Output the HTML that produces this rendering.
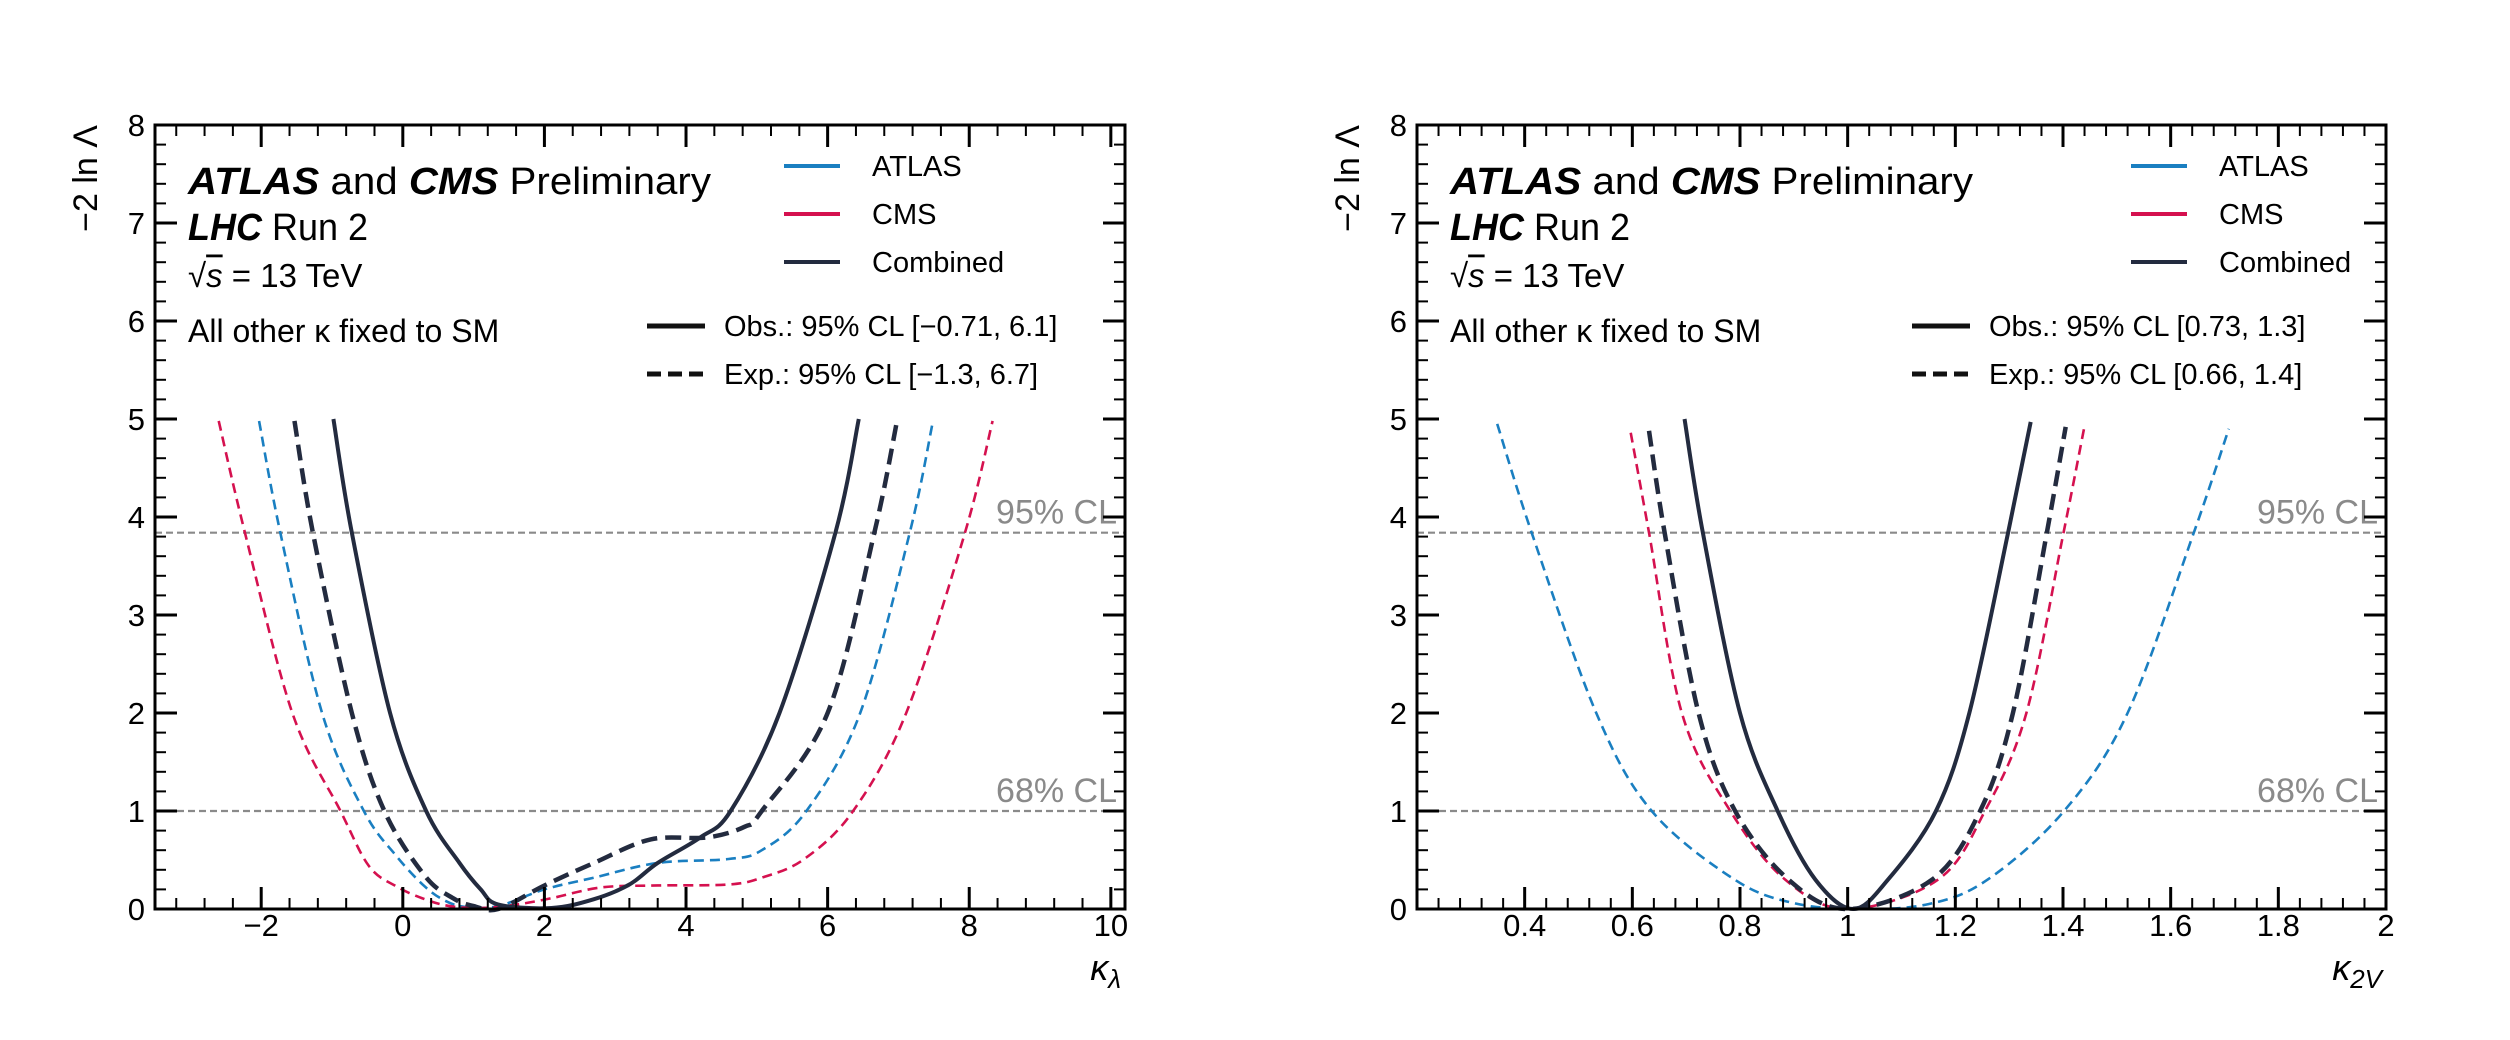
<!DOCTYPE html>
<html><head><meta charset="utf-8"><style>
html,body{margin:0;padding:0;background:#fff;}
svg{display:block;font-family:"Liberation Sans",sans-serif;}
</style></head><body>
<svg id="chart" width="2510" height="1040" viewBox="0 0 2510 1040" xmlns="http://www.w3.org/2000/svg"></svg>
<script>
// ---------- data (left panel: kappa_lambda) ----------
const klAtlasX = [-2.03,-1.73,-1.14,-0.55,-0.09,0.31,0.61,0.9,1.35,2.0,2.7,3.6,4.6,5.07,5.7,6.46,7.16,7.48];
const klAtlasY = [4.98,3.84,2,1,0.54,0.23,0.08,0.02,0.03,0.2,0.32,0.47,0.51,0.6,1,2,3.84,4.95];
const klCmsX = [-2.6,-2.23,-1.56,-0.88,-0.48,-0.09,0.31,0.66,1.1,1.6,2.1,2.8,3.6,4.6,5.07,5.67,6.36,7.11,7.94,8.33];
const klCmsY = [4.98,3.84,2,1,0.44,0.23,0.1,0.03,0.01,0.045,0.11,0.22,0.24,0.25,0.32,0.51,1,2,3.84,4.98];
const klExpX = [-1.53,-1.27,-0.72,-0.26,0.31,0.71,1.0,1.35,2.0,2.7,3.5,4.3,4.83,5.07,6.0,6.66,6.98];
const klExpY = [4.98,3.84,2,1,0.34,0.11,0.03,0.0,0.24,0.47,0.71,0.73,0.84,1,2,3.84,4.98];
const klObsX = [-0.98,-0.72,-0.18,0.33,0.8,1.1,1.35,2.1,2.7,3.2,3.6,4.2,4.63,5.32,6.11,6.44];
const klObsY = [5,3.84,2,1,0.47,0.2,0.045,0.01,0.1,0.25,0.47,0.73,1,2,3.84,5];
// ---------- data (right panel: kappa_2V) ----------
const k2AtlasX = [0.349,0.413,0.533,0.636,0.79,0.9,1.02,1.15,1.26,1.402,1.52,1.643,1.708];
const k2AtlasY = [4.95,3.84,2,1,0.3,0.06,0,0.05,0.3,1,2,3.84,4.9];
const k2CmsX = [0.597,0.631,0.692,0.782,0.884,1.0,1.168,1.255,1.332,1.401,1.439];
const k2CmsY = [4.86,3.84,2,1,0.3,0,0.3,1,2,3.84,4.9];
const k2ExpX = [0.631,0.66,0.723,0.791,0.89,1.0,1.157,1.246,1.307,1.37,1.405];
const k2ExpY = [4.88,3.84,2,1,0.3,0,0.3,1,2,3.84,4.92];
const k2ObsX = [0.697,0.731,0.80,0.87,0.94,1.01,1.075,1.164,1.226,1.298,1.34];
const k2ObsY = [5,3.84,2,1,0.3,0,0.3,1,2,3.84,4.97];
const yTicks = [0,1,2,3,4,5,6,7,8];
const klTicks = [-2,0,2,4,6,8,10];
const k2Ticks = [0.4,0.6,0.8,1,1.2,1.4,1.6,1.8,2];
const clLevels = [1,3.84];
const clLabels = ["68% CL","95% CL"];

const NS="http://www.w3.org/2000/svg";
const svg=document.getElementById('chart');
function mk(tag,attrs,parent){const e=document.createElementNS(NS,tag);for(const k in attrs)e.setAttribute(k,attrs[k]);(parent||svg).appendChild(e);return e;}
const C_ATLAS="#1a7fc1",C_CMS="#d5114f",C_COMB="#232b3f",C_GRAY="#8a8a8a";

function panel(o){
  const g=mk('g',{});
  
  
  const L=o.x0,R=o.x1,T=125,B=909;
  const sx=v=>L+(v-o.xmin)/(o.xmax-o.xmin)*(R-L);
  const sy=v=>B-(v/8)*(B-T);
  clLevels.forEach((lv,i)=>{
    const ln=mk('line',{x1:L,x2:R,y1:sy(lv),y2:sy(lv),stroke:C_GRAY,'stroke-width':2.2,'stroke-dasharray':'7,4'},g);
    
    
    const t=mk('text',{x:R-8,y:sy(lv)-9,'font-size':34,fill:C_GRAY,'text-anchor':'end'},g);
    t.textContent=clLabels[i];
    
    
  });
  function path(xs,ys){
    const p=xs.map((x,i)=>[sx(x),sy(ys[i])]);
    let d='M'+p[0][0]+','+p[0][1];
    for(let i=0;i<p.length-1;i++){
      const p0=p[Math.max(0,i-1)],p1=p[i],p2=p[i+1],p3=p[Math.min(p.length-1,i+2)];
      const c1=[p1[0]+(p2[0]-p0[0])/6,p1[1]+(p2[1]-p0[1])/6];
      const c2=[p2[0]-(p3[0]-p1[0])/6,p2[1]-(p3[1]-p1[1])/6];
      d+=' C'+c1[0]+','+c1[1]+' '+c2[0]+','+c2[1]+' '+p2[0]+','+p2[1];
    }
    return d;
  }
  o.series.forEach(s=>{
    const e=mk('path',{d:path(s.x,s.y),fill:'none',stroke:s.c,'stroke-width':s.w,'stroke-dasharray':s.dash||'none','stroke-linejoin':'round'},g);
    
    
  });
  const fr=mk('rect',{x:L,y:T,width:R-L,height:B-T,fill:'none',stroke:'#000','stroke-width':3},g);
  
  
  for(let v=0;v<=8.001;v+=0.2){
    const maj=Math.abs(v-Math.round(v))<1e-6;const len=maj?22:11;
    mk('line',{x1:L,x2:L+len,y1:sy(v),y2:sy(v),stroke:'#000','stroke-width':maj?3:2},g);
    mk('line',{x1:R,x2:R-len,y1:sy(v),y2:sy(v),stroke:'#000','stroke-width':maj?3:2},g);
  }
  yTicks.forEach(v=>{
    const t=mk('text',{x:L-10,y:sy(v)+11,'font-size':31,'text-anchor':'end'},g);
    t.textContent=v;
    
    
  });
  const n=Math.round((o.xmax-o.xmin)/o.minor)+2;
  const start=Math.ceil(o.xmin/o.minor-1e-6)*o.minor;
  for(let i=0;i<n;i++){
    const v=start+i*o.minor; if(v>o.xmax+1e-9)break;
    const q=v/o.major; const maj=Math.abs(q-Math.round(q))<1e-6; const len=maj?22:11;
    mk('line',{x1:sx(v),x2:sx(v),y1:B,y2:B-len,stroke:'#000','stroke-width':maj?3:2},g);
    mk('line',{x1:sx(v),x2:sx(v),y1:T,y2:T+len,stroke:'#000','stroke-width':maj?3:2},g);
  }
  o.ticks.forEach(v=>{
    const t=mk('text',{x:sx(v),y:936,'font-size':31,'text-anchor':'middle'},g);
    t.textContent=(v<0?'\u2212'+(-v):String(v));
    
    
  });
  const yt=mk('text',{x:0,y:0,'font-size':34,'text-anchor':'end',transform:`translate(${L-58},125) rotate(-90)`},g);
  yt.textContent='\u22122 ln \u039B';
  
  
  const xt=mk('text',{x:R-4,y:980,'font-size':36,'font-style':'italic','text-anchor':'end'},g);
  xt.innerHTML='\u03BA<tspan font-size="26" dy="8">'+o.sub+'</tspan>';
  
  
  const tx=L+33;
  const t1=mk('text',{x:tx,y:194,'font-size':38,textLength:523,lengthAdjust:'spacingAndGlyphs'},g);
  t1.innerHTML='<tspan font-weight="bold" font-style="italic">ATLAS</tspan> and <tspan font-weight="bold" font-style="italic">CMS</tspan> Preliminary';
  
  
  const t2=mk('text',{x:tx,y:240,'font-size':38,textLength:180,lengthAdjust:'spacingAndGlyphs'},g);
  t2.innerHTML='<tspan font-weight="bold" font-style="italic">LHC</tspan> Run 2';
  
  
  const t3=mk('text',{x:tx,y:287,'font-size':33},g);
  t3.innerHTML='\u221A<tspan font-style="italic" text-decoration="overline">s</tspan> = 13 TeV';
  
  
  const t4=mk('text',{x:tx,y:342,'font-size':32},g);
  t4.textContent='All other \u03BA fixed to SM';
  
  
  const leg=[["ATLAS",C_ATLAS,166],["CMS",C_CMS,214],["Combined",C_COMB,262]];
  leg.forEach(l=>{
    const ln=mk('line',{x1:o.legX,x2:o.legX+56,y1:l[2],y2:l[2],stroke:l[1],'stroke-width':4},g);
    
    
    const t=mk('text',{x:o.legX+88,y:l[2]+10,'font-size':29},g);
    t.textContent=l[0];
    
    
  });
  const sty=[["Obs.:  95% CL "+o.obs,'none',326,'obs'],["Exp.:  95% CL "+o.exp,'14,7',374,'exp']];
  sty.forEach(s=>{
    const ln=mk('line',{x1:o.styX,x2:o.styX+58,y1:s[2],y2:s[2],stroke:'#111','stroke-width':5,'stroke-dasharray':s[1]},g);
    
    
    const t=mk('text',{x:o.styX+77,y:s[2]+10,'font-size':29},g);
    t.textContent=s[0];
    
    
  });
}
panel({name:'kappa-lambda-panel',x0:155,x1:1125,xmin:-3.5,xmax:10.2,minor:0.4,major:2,ticks:klTicks,sub:'\u03BB',
  legX:784,styX:647,obs:'[\u22120.71, 6.1]',exp:'[\u22121.3, 6.7]',
  series:[
   {n:'atlas-expected-curve',x:klAtlasX,y:klAtlasY,c:C_ATLAS,w:2.6,dash:'10,6'},
   {n:'cms-expected-curve',x:klCmsX,y:klCmsY,c:C_CMS,w:2.6,dash:'10,6'},
   {n:'combined-expected-curve',x:klExpX,y:klExpY,c:C_COMB,w:4.5,dash:'16,8'},
   {n:'combined-observed-curve',x:klObsX,y:klObsY,c:C_COMB,w:4}]});
panel({name:'kappa-2v-panel',x0:1417,x1:2386,xmin:0.2,xmax:2.0,minor:0.04,major:0.2,ticks:k2Ticks,sub:'2V',
  legX:2131,styX:1912,obs:'[0.73, 1.3]',exp:'[0.66, 1.4]',
  series:[
   {n:'atlas-expected-curve',x:k2AtlasX,y:k2AtlasY,c:C_ATLAS,w:2.6,dash:'10,6'},
   {n:'cms-expected-curve',x:k2CmsX,y:k2CmsY,c:C_CMS,w:2.6,dash:'10,6'},
   {n:'combined-expected-curve',x:k2ExpX,y:k2ExpY,c:C_COMB,w:4.5,dash:'16,8'},
   {n:'combined-observed-curve',x:k2ObsX,y:k2ObsY,c:C_COMB,w:4}]});
</script>
</body></html>
